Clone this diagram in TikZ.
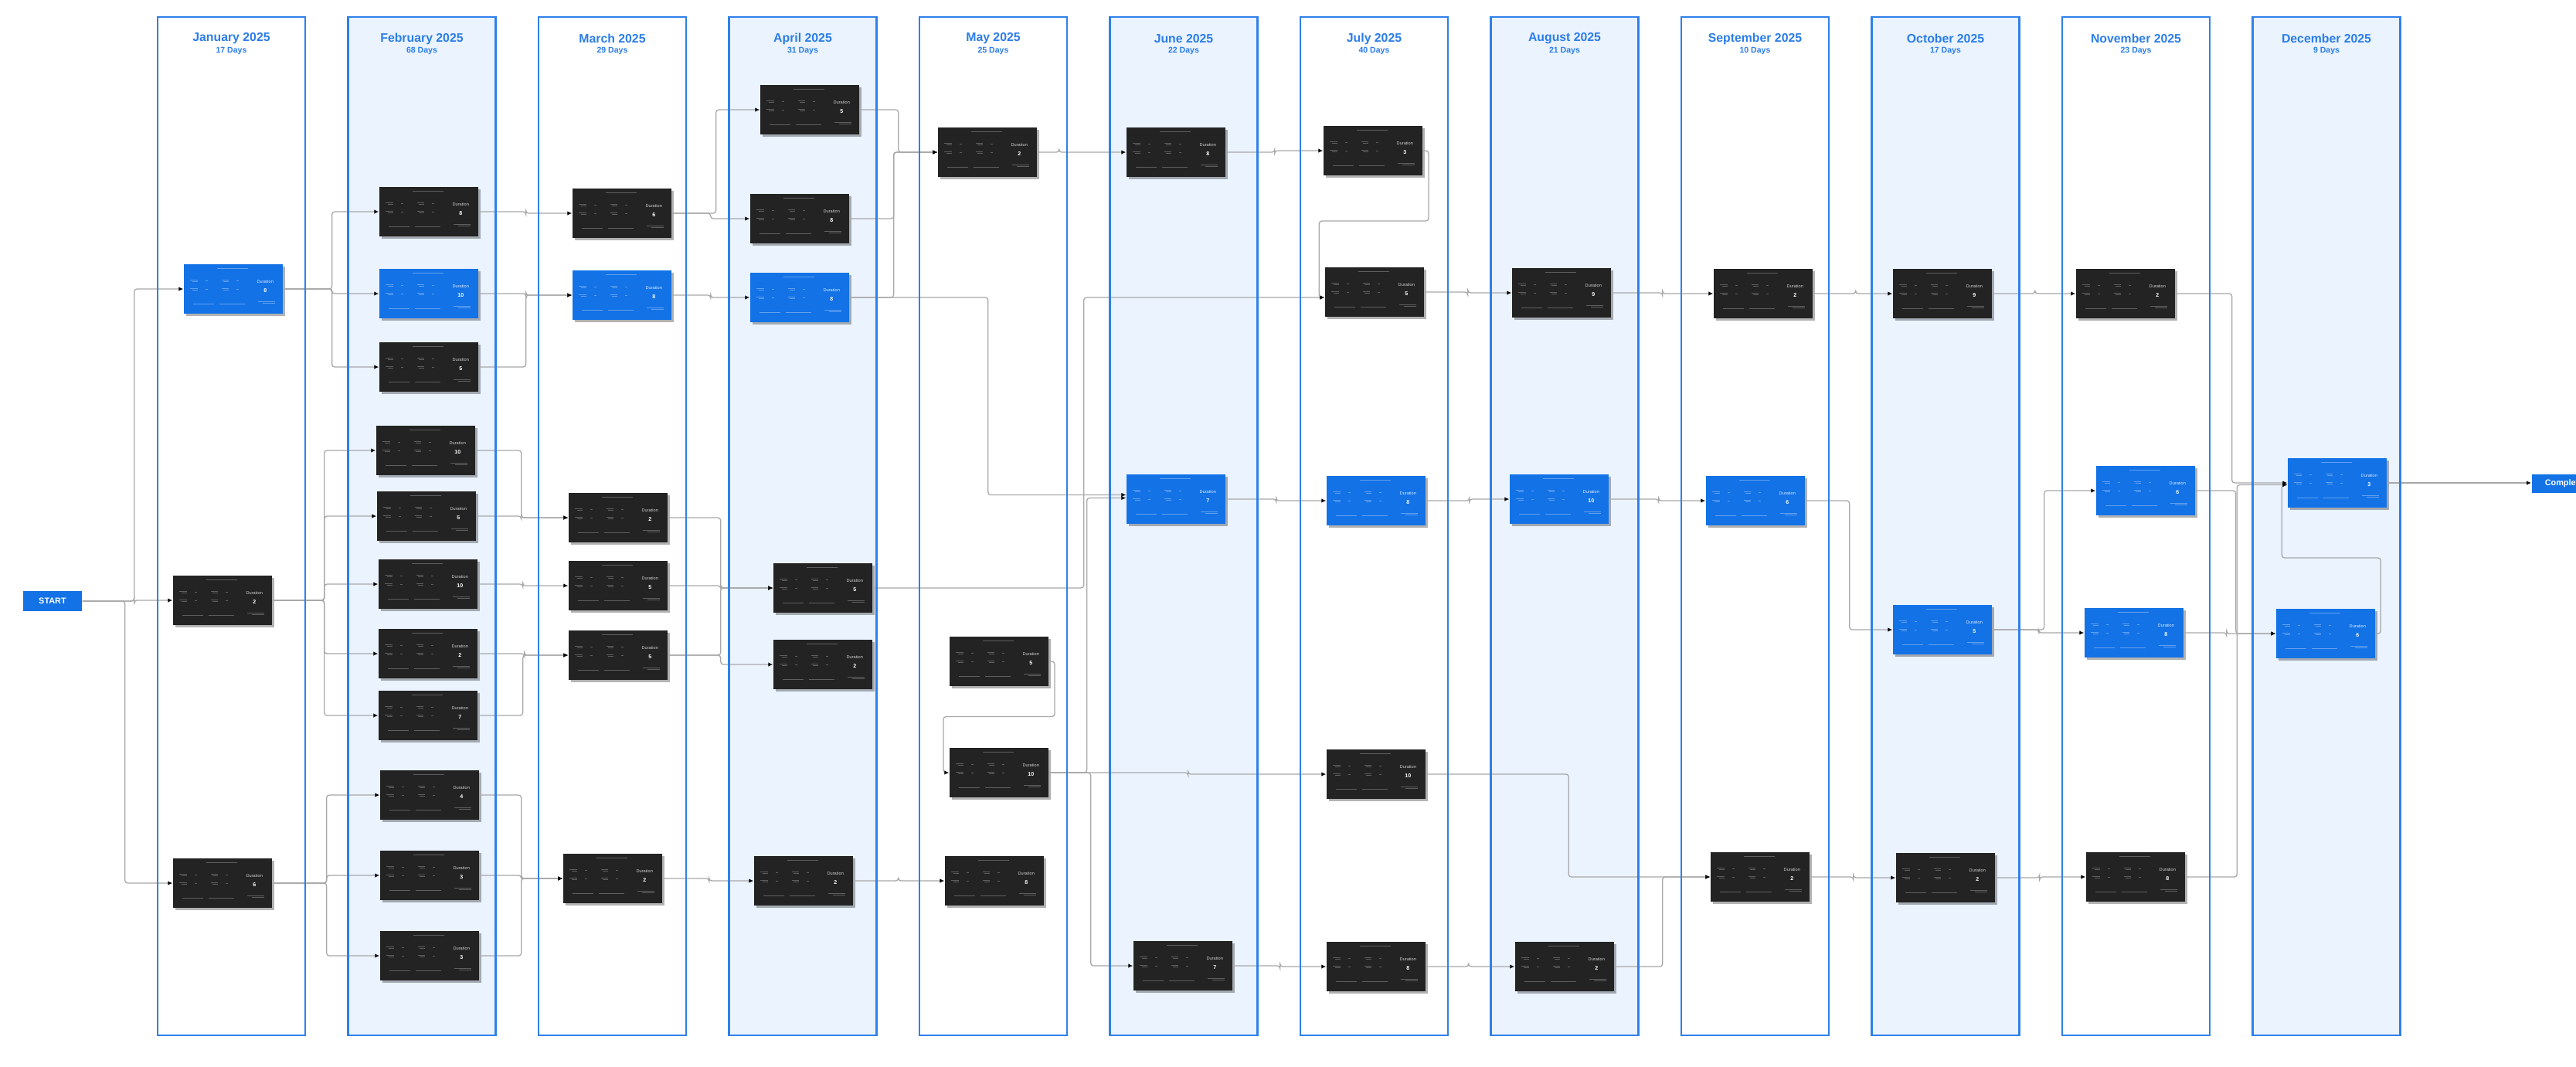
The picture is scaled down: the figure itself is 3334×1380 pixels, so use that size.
\documentclass[tikz,border=0pt]{standalone}
\usepackage{fontspec}
\setmainfont{Liberation Sans}
\usetikzlibrary{arrows.meta,shadows,calc}

\definecolor{colBorder}{HTML}{2F80EA}
\definecolor{colFill}{HTML}{EAF3FE}
\definecolor{hdrBlue}{HTML}{2B7DE9}
\definecolor{cardBlue}{HTML}{1272E6}
\definecolor{cardDark}{HTML}{232323}
\definecolor{barDark}{HTML}{5E5E5E}
\definecolor{barBlue}{HTML}{62A0F0}
\definecolor{lineGray}{HTML}{A8A8A8}
\definecolor{txtDark}{HTML}{D0D0D0}
\definecolor{txtBlue}{HTML}{E3EEFF}

\tikzset{
 dkcard/.style={rectangle, fill=cardDark, minimum width=12.8mm, minimum height=6.4mm, inner sep=0pt,
   drop shadow={shadow xshift=0.25mm, shadow yshift=-0.25mm, opacity=0.3, fill=black}},
 blcard/.style={dkcard, fill=cardBlue},
 dkbar/.style={draw=barDark, line width=0.12mm},
 blbar/.style={draw=barBlue, line width=0.12mm},
 dktxt/.style={text=txtDark, font=\fontsize{1.6}{1.8}\selectfont, inner sep=0pt},
 bltxt/.style={text=txtBlue, font=\fontsize{1.6}{1.8}\selectfont, inner sep=0pt},
 dknum/.style={text=white, font=\bfseries\fontsize{2}{2.2}\selectfont, inner sep=0pt},
 blnum/.style={dknum},
 startbox/.style={rectangle, fill=cardBlue, minimum width=7.6mm, minimum height=2.6mm, inner sep=0pt,
   text=white, font=\bfseries\fontsize{3.1}{3.5}\selectfont},
 hdrtxt/.style={text=hdrBlue, font=\bfseries\fontsize{4.5}{5}\selectfont, inner sep=0pt},
 subtxt/.style={text=hdrBlue, font=\bfseries\fontsize{3}{3.5}\selectfont, inner sep=0pt},
 conn/.style={draw=lineGray, line width=0.13mm, rounded corners=0.35mm,
   -{Latex[length=0.6mm,width=0.55mm,color=black]}},
}

\newcommand\taskcard[5]{%
 \node[#4card] (#1) at (#2,#3) {};
 \begin{scope}[shift={(#1.north west)}, #4bar]
  \draw (44,6) -- (84,6);
  \foreach \yy in {0,11}{%
   \draw (9,21+\yy) -- (19,21+\yy) (12,23.5+\yy) -- (19,23.5+\yy) (29,22+\yy) -- (32,22+\yy)
         (50,21+\yy) -- (59,21+\yy) (52,23.5+\yy) -- (59,23.5+\yy) (69,22+\yy) -- (72,22+\yy);
  }
  \draw (13,52) -- (40,52) (47,52) -- (80,52) (97,49) -- (119,49) (103,51.5) -- (119,51.5);
 \end{scope}
 \node[#4txt] (#1d) at ([xshift=10.6mm,yshift=-2.3mm]#1.north west) {Duration};
 \node[#4num] (#1n) at ([xshift=10.6mm,yshift=-3.5mm]#1.north west) {#5};
}

\newcommand\hvconn[4][yshift=0mm]{\draw[conn] (#2.east) -- ([xshift=#4mm]#2.east) |- ([#1]#3.west);}

\begin{document}
\begin{tikzpicture}[x=0.1mm,y=-0.1mm]
\useasboundingbox (0,0) rectangle (3334,1380);
\fill[white] (0,0) rectangle (3334,1380);

% column fills
\foreach \i/\f in {0/white,1/colFill,2/white,3/colFill,4/white,5/colFill,6/white,7/colFill,8/white,9/colFill,10/white,11/colFill}{
  \pgfmathsetmacro\xl{204+246.5*\i}
  \fill[\f] (\xl,22) rectangle (\xl+191,1340);
}

% start and end
\node[startbox] (START) at (68,778) {START};
\node[startbox, minimum width=9.4mm, minimum height=2.4mm, anchor=west] (Comp) at (3276,626) {Completion};

% cards
\taskcard{J1}{302}{374}{bl}{8}
\taskcard{J2}{288}{777}{dk}{2}
\taskcard{J3}{288}{1143}{dk}{6}

\taskcard{F1}{555}{274}{dk}{8}
\taskcard{F2}{555}{380}{bl}{10}
\taskcard{F3}{555}{475}{dk}{5}
\taskcard{F4}{551}{583}{dk}{10}
\taskcard{F5}{552}{668}{dk}{5}
\taskcard{F6}{554}{756}{dk}{10}
\taskcard{F7}{554}{846}{dk}{2}
\taskcard{F8}{554}{926}{dk}{7}
\taskcard{F9}{556}{1029}{dk}{4}
\taskcard{F10}{556}{1133}{dk}{3}
\taskcard{F11}{556}{1237}{dk}{3}

\taskcard{M1}{805}{276}{dk}{6}
\taskcard{M2}{805}{382}{bl}{8}
\taskcard{M3}{800}{670}{dk}{2}
\taskcard{M4}{800}{758}{dk}{5}
\taskcard{M5}{800}{848}{dk}{5}
\taskcard{M6}{793}{1137}{dk}{2}

\taskcard{A1}{1048}{142}{dk}{5}
\taskcard{A2}{1035}{283}{dk}{8}
\taskcard{A3}{1035}{385}{bl}{8}
\taskcard{A4}{1065}{761}{dk}{5}
\taskcard{A5}{1065}{860}{dk}{2}
\taskcard{A6}{1040}{1140}{dk}{2}

\taskcard{My1}{1278}{197}{dk}{2}
\taskcard{My2}{1293}{856}{dk}{5}
\taskcard{My3}{1293}{1000}{dk}{10}
\taskcard{My4}{1287}{1140}{dk}{8}

\taskcard{Jn1}{1522}{197}{dk}{8}
\taskcard{Jn2}{1522}{646}{bl}{7}
\taskcard{Jn3}{1531}{1250}{dk}{7}

\taskcard{Jl1}{1777}{195}{dk}{3}
\taskcard{Jl2}{1779}{378}{dk}{5}
\taskcard{Jl3}{1781}{648}{bl}{8}
\taskcard{Jl4}{1781}{1002}{dk}{10}
\taskcard{Jl5}{1781}{1251}{dk}{8}

\taskcard{Au1}{2021}{379}{dk}{9}
\taskcard{Au2}{2018}{646}{bl}{10}
\taskcard{Au3}{2025}{1251}{dk}{2}

\taskcard{S1}{2282}{380}{dk}{2}
\taskcard{S2}{2272}{648}{bl}{6}
\taskcard{S3}{2278}{1135}{dk}{2}

\taskcard{O1}{2514}{380}{dk}{9}
\taskcard{O2}{2514}{815}{bl}{5}
\taskcard{O3}{2518}{1136}{dk}{2}

\taskcard{N1}{2751}{380}{dk}{2}
\taskcard{N2}{2777}{635}{bl}{6}
\taskcard{N3}{2762}{819}{bl}{8}
\taskcard{N4}{2764}{1135}{dk}{8}

\taskcard{D1}{3025}{625}{bl}{3}
\taskcard{D2}{3010}{820}{bl}{6}

% connectors
\hvconn{START}{J1}{6.7}
\hvconn{START}{J2}{6.7}
\hvconn{START}{J3}{5.5}

\hvconn{J1}{F1}{6.3}
\hvconn{J1}{F2}{6.3}
\hvconn{J1}{F3}{6.3}
\hvconn{J2}{F4}{6.7}
\hvconn{J2}{F5}{6.7}
\hvconn{J2}{F6}{6.7}
\hvconn{J2}{F7}{6.7}
\hvconn{J2}{F8}{6.7}
\hvconn{J3}{F9}{7.0}
\hvconn{J3}{F10}{7.0}
\hvconn{J3}{F11}{7.0}

\hvconn{F1}{M1}{6.1}
\hvconn{F2}{M2}{6.1}
\hvconn{F3}{M2}{6.1}
\hvconn{F4}{M3}{5.9}
\hvconn{F5}{M3}{5.8}
\hvconn{F6}{M4}{5.8}
\hvconn{F7}{M5}{6.0}
\hvconn{F8}{M5}{5.8}
\hvconn{F9}{M6}{5.4}
\hvconn{F10}{M6}{5.4}
\hvconn{F11}{M6}{5.4}

\hvconn{M1}{A1}{5.7}
\hvconn{M1}{A2}{5.0}
\hvconn{M2}{A3}{5.0}
\hvconn{M3}{A4}{6.8}
\hvconn{M4}{A4}{6.8}
\hvconn{M5}{A4}{6.8}
\hvconn{M5}{A5}{6.8}
\hvconn{M6}{A6}{6.0}

\hvconn{A1}{My1}{5.0}
\hvconn{A2}{My1}{5.7}
\hvconn{A3}{My1}{5.7}
\hvconn[yshift=0.55mm]{A3}{Jn2}{17.9}
\hvconn[yshift=-0.7mm]{A4}{Jl2}{27.3}
\hvconn{A6}{My4}{5.8}

\hvconn{My1}{Jn1}{2.8}
\draw[conn] (My2.east) -- ++(0.72mm,0) -- ++(0,-7.15mm) -| ([xshift=-0.73mm]My3.west) -- (My3.west);
\hvconn[yshift=0.15mm]{My3}{Jn2}{4.9}
\hvconn{My3}{Jl4}{18}
\hvconn{My3}{Jn3}{5.4}

\hvconn{Jn1}{Jl1}{6.3}
\hvconn{Jn2}{Jl3}{6.5}
\hvconn{Jn3}{Jl5}{6.1}

\draw[conn] (Jl1.east) -- ++(0.72mm,0) -- ++(0,-9.1mm) -| ([xshift=-0.7mm,yshift=-0.7mm]Jl2.west) -- ([yshift=-0.7mm]Jl2.west);
\hvconn{Jl2}{Au1}{5.6}
\hvconn{Jl3}{Au2}{5.6}
\hvconn{Jl4}{S3}{18.45}
\hvconn{Jl5}{Au3}{5.5}

\hvconn{Au1}{S1}{6.6}
\hvconn{Au2}{S2}{6.4}
\hvconn{Au3}{S3}{6.2}

\hvconn{S1}{O1}{5.5}
\hvconn{S2}{O2}{5.7}
\hvconn{S3}{O3}{5.6}

\hvconn{O1}{N1}{5.5}
\hvconn{O2}{N2}{6.7}
\hvconn{O2}{N3}{6.0}
\hvconn{O3}{N4}{5.7}

\hvconn{N1}{D1}{7.3}
\hvconn{N2}{D2}{5.2}
\hvconn{N3}{D2}{5.5}
\hvconn[yshift=-0.25mm]{N4}{D1}{6.65}
\draw[conn] (D2.east) -- ++(0.66mm,0) -- ++(0,9.8mm) -| ([xshift=-0.7mm,yshift=-0.25mm]D1.west) -- ([yshift=-0.25mm]D1.west);
\draw[conn] (D1.east) -- (D1.east -| Comp.west);

% column borders and headers
\foreach \i/\m/\d in {0/January/17,1/February/68,2/March/29,3/April/31,4/May/25,5/June/22,6/July/40,7/August/21,8/September/10,9/October/17,10/November/23,11/December/9}{
  \pgfmathsetmacro\xl{204+246.5*\i}
  \draw[colBorder, line width=0.25mm] (\xl,22) rectangle (\xl+191,1340);
  \node[hdrtxt] (hdr\i) at (\xl+95.5,50) {\m\ 2025};
  \node[subtxt] (sub\i) at (\xl+95.5,66) {\d\ Days};
}
\end{tikzpicture}
\end{document}
